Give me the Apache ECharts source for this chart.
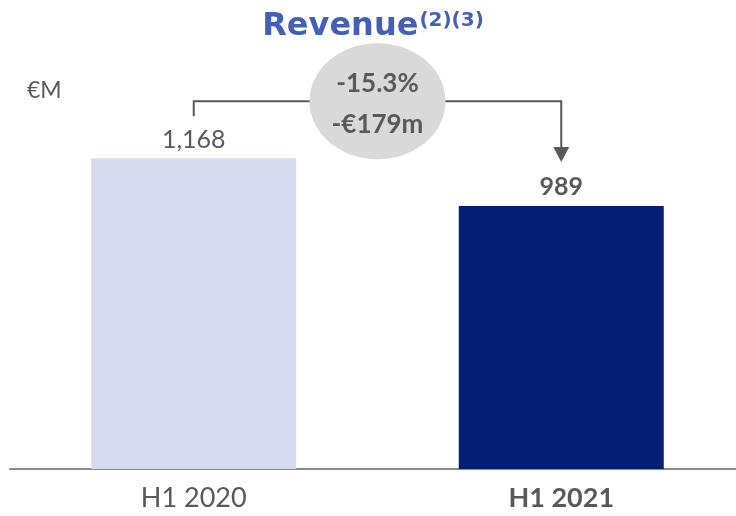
<!DOCTYPE html>
<html>
<head>
<meta charset="utf-8">
<script src="https://cdn.jsdelivr.net/npm/echarts@6/dist/echarts.min.js"></script>
<style>
html, body { margin: 0; padding: 0; background: #fff; overflow: hidden; }
#chart { width: 745px; height: 516px; }
</style>
</head>
<body>
<div id="chart"></div>
<script>
var categories = ['H1 2020', 'H1 2021'];
var revenue = [1168, 989];
var valueLabels = ['1,168', '989'];
var changePct = '-15.3%';
var changeAbs = '-€179m';

var barColors = ['#D6DCF0', '#031E72'];
var grey = '#595959';

var myChart = echarts.init(document.getElementById('chart'));

var option = {
    backgroundColor: '#ffffff',
    animation: false,
    title: {
        text: '{t|Revenue}{s|(2)(3)}',
        left: 368,
        textAlign: 'center',
        top: 6,
        textStyle: {
            rich: {
                t: { fontFamily: 'DejaVu Sans', fontWeight: 'bold', fontSize: 32, lineHeight: 32, color: '#4360B6' },
                s: { fontFamily: 'DejaVu Sans', fontWeight: 'bold', fontSize: 20, lineHeight: 20, color: '#4360B6', verticalAlign: 'top', padding: [0, 0, 0, 1] }
            }
        }
    },
    grid: { left: 10, right: 0, top: 70, bottom: 47 },
    xAxis: {
        type: 'category',
        data: categories,
        axisTick: { show: false },
        axisLine: { lineStyle: { color: '#8a8a8a', width: 2 } },
        axisLabel: {
            margin: 16,
            fontFamily: 'Lato',
            fontSize: 27,
            color: grey,
            formatter: function (v, i) { return i === 1 ? '{b|' + v + '}' : v; },
            rich: { b: { fontFamily: 'Lato', fontWeight: 'bold', fontSize: 27, color: grey } }
        }
    },
    yAxis: {
        type: 'value',
        min: 0,
        max: 1500,
        show: false,
        splitLine: { show: false }
    },
    series: [{
        type: 'bar',
        barWidth: 205,
        data: revenue.map(function (v, i) {
            return {
                value: v,
                itemStyle: { color: barColors[i] },
                label: {
                    show: true,
                    position: 'top',
                    distance: 6,
                    formatter: valueLabels[i],
                    fontFamily: 'Lato',
                    fontSize: 25,
                    fontWeight: i === 1 ? 'bold' : 'normal',
                    color: grey
                }
            };
        })
    }]
};
myChart.setOption(option);

// annotation: bracket + bubble built from bar positions
var p0 = myChart.convertToPixel({ xAxisIndex: 0, yAxisIndex: 0 }, [0, revenue[0]]);
var p1 = myChart.convertToPixel({ xAxisIndex: 0, yAxisIndex: 0 }, [1, revenue[1]]);
var lineY = p0[1] - 57;
var bx = (p0[0] + p1[0]) / 2;
var by = lineY;
var arrowTip = p1[1] - 44;

myChart.setOption({
    graphic: [
        {
            type: 'text', left: 27, top: 79,
            style: { text: '€M', fontFamily: 'Lato', fontSize: 23, fill: grey }
        },
        {
            type: 'polyline',
            shape: { points: [[p0[0], p0[1] - 42], [p0[0], lineY], [p1[0], lineY], [p1[0], arrowTip - 14]] },
            style: { stroke: grey, lineWidth: 2, fill: null }
        },
        {
            type: 'polygon',
            shape: { points: [[p1[0] - 8, arrowTip - 15], [p1[0] + 8, arrowTip - 15], [p1[0], arrowTip]] },
            style: { fill: grey }
        },
        {
            type: 'ellipse',
            shape: { cx: bx, cy: by, rx: 68, ry: 58 },
            style: { fill: '#D9D9D9' }
        },
        {
            type: 'text', x: bx, y: by - 18,
            style: { text: changePct, fontFamily: 'Lato', fontWeight: 'bold', fontSize: 26, fill: grey, align: 'center', verticalAlign: 'middle' }
        },
        {
            type: 'text', x: bx, y: by + 23,
            style: { text: changeAbs, fontFamily: 'Lato', fontWeight: 'bold', fontSize: 26, fill: grey, align: 'center', verticalAlign: 'middle' }
        }
    ]
});
</script>
</body>
</html>
